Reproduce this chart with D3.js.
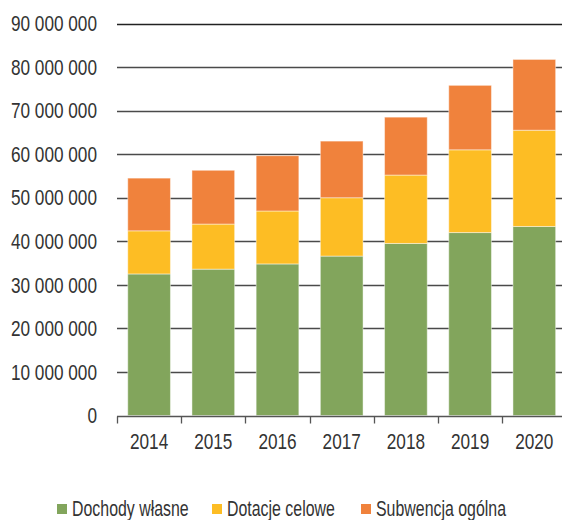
<!DOCTYPE html>
<html>
<head>
<meta charset="utf-8">
<script src="https://cdn.jsdelivr.net/npm/d3@7"></script>
<style>
html,body{margin:0;padding:0;background:#fff;}
text{font-family:"Liberation Sans",Arial,sans-serif;fill:#333;}
</style>
</head>
<body>
<svg id="chart" width="562" height="520"></svg>
<script>
const years = ["2014","2015","2016","2017","2018","2019","2020"];
const dochodyWlasne = [32500000, 33600000, 34800000, 36600000, 39500000, 42000000, 43400000];
const dotacjeCelowe = [9900000, 10350000, 12150000, 13400000, 15700000, 19000000, 22100000];
const subwencjaOgolna = [12100000, 12350000, 12700000, 13000000, 13300000, 14800000, 16250000];
const seriesNames = ["Dochody własne", "Dotacje celowe", "Subwencja ogólna"];
const seriesColors = ["#82a55c", "#fdbd24", "#f0823c"];
const yTicks = [0,10000000,20000000,30000000,40000000,50000000,60000000,70000000,80000000,90000000];

const svg = d3.select("#chart");
const left = 117, step = 64.2, y0 = 415.5, yTop = 23.5;
const FS = 21.5, SX = 0.8, SXL = 0.74;
const x = d3.scaleBand().domain(years).range([left, left + step*years.length]).paddingInner(0.335).paddingOuter(0.1675);
const y = d3.scaleLinear().domain([0, 90000000]).range([y0, yTop]);

const fmt = v => d3.format(",")(v).replace(/,/g, " ");
const narrow = (px, py, s) => `translate(${px},${py}) scale(${s || SX},1)`;

// gridlines
svg.append("g").selectAll("line").data(yTicks.filter(d=>d>0)).join("line")
  .attr("x1", left).attr("x2", 562)
  .attr("y1", d=>Math.round(y(d))+0.5).attr("y2", d=>Math.round(y(d))+0.5)
  .attr("stroke", d=> d===90000000 ? "#222" : "#4a4a4a").attr("stroke-width", 1.3);

// y labels
svg.append("g").selectAll("text").data(yTicks).join("text")
  .attr("transform", d=>narrow(97, y(d))).attr("dy","0.36em")
  .attr("text-anchor","end").attr("font-size", FS)
  .text(d=>fmt(d));

// stacked bars
const table = years.map((yr,i)=>({year:yr, a:dochodyWlasne[i], b:dotacjeCelowe[i], c:subwencjaOgolna[i]}));
const stack = d3.stack().keys(["a","b","c"])(table);
svg.append("g").selectAll("g").data(stack).join("g")
  .attr("fill", (d,i)=>seriesColors[i])
  .selectAll("rect").data(d=>d).join("rect")
  .attr("x", d=>x(d.data.year)).attr("width", x.bandwidth())
  .attr("y", d=>y(d[1])).attr("height", d=>y(d[0])-y(d[1]))
  .attr("stroke","rgba(255,255,255,0.45)").attr("stroke-width",1);

// x axis
const axisY = Math.round(y0)+0.5;
svg.append("line").attr("x1", left).attr("x2", 562).attr("y1", axisY).attr("y2", axisY)
  .attr("stroke","#555").attr("stroke-width",1.3);
svg.append("g").selectAll("line").data(d3.range(years.length+1)).join("line")
  .attr("x1", i=>Math.round(left + i*x.step())+0.5).attr("x2", i=>Math.round(left + i*x.step())+0.5)
  .attr("y1", axisY).attr("y2", axisY+7)
  .attr("stroke","#555").attr("stroke-width",1.3);
svg.append("g").selectAll("text").data(years).join("text")
  .attr("transform", d=>narrow(x(d)+x.bandwidth()/2, 449))
  .attr("text-anchor","middle").attr("font-size",FS)
  .text(d=>d);

// legend
const legX = [57, 212, 361];
const lg = svg.append("g").selectAll("g").data(seriesNames).join("g")
  .attr("transform",(d,i)=>`translate(${legX[i]},0)`);
lg.append("rect").attr("x",0).attr("y",504).attr("width",10).attr("height",10)
  .attr("fill",(d,i)=>seriesColors[i]);
lg.append("text").attr("transform", narrow(15,516,SXL)).attr("font-size",FS).text(d=>d);
</script>
</body>
</html>
